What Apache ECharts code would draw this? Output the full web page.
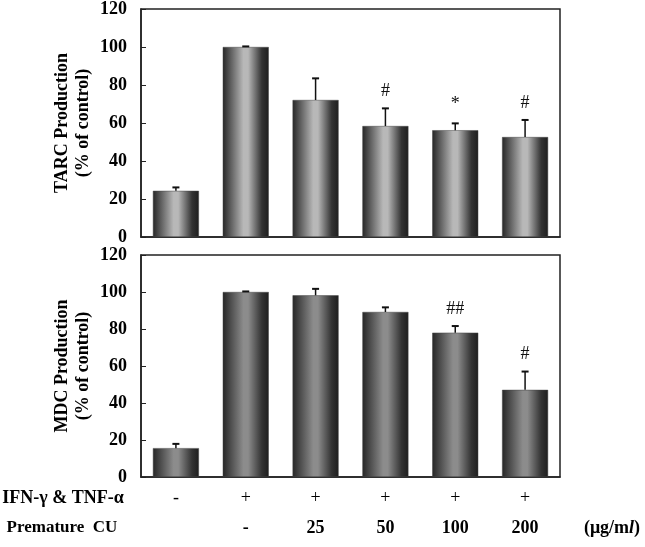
<!DOCTYPE html>
<html>
<head>
<meta charset="utf-8">
<script src="https://cdn.jsdelivr.net/npm/echarts@6/dist/echarts.min.js"></script>
<style>html,body{margin:0;padding:0;background:#fff;}#c{width:645px;height:547px;}</style>
</head>
<body>
<div id="c"></div>
<script>
var categories = ['g1', 'g2', 'g3', 'g4', 'g5', 'g6'];
var ifnRow = ['-', '+', '+', '+', '+', '+'];
var cuRow = ['', '-', '25', '50', '100', '200'];
var tarcMean = [24.3, 100, 72.1, 58.4, 56.2, 52.6];
var tarcSD = [1.8, 0.3, 11.4, 9.3, 3.6, 9.0];
var tarcSig = ['', '', '', '#', '*', '#'];
var mdcMean = [15.6, 100, 98.2, 89.2, 78.0, 47.1];
var mdcSD = [2.3, 0.3, 3.5, 2.5, 3.6, 9.9];
var mdcSig = ['', '', '', '', '##', '#'];
var yTicks = [0, 20, 40, 60, 80, 100, 120];

var FONT = '"Liberation Serif", "Times New Roman", serif';
var FS = 18;
var chart = echarts.init(document.getElementById('c'), null, {renderer: 'canvas'});

function grad(light) {
  return new echarts.graphic.LinearGradient(0, 0, 1, 0, [
    {offset: 0, color: '#262626'},
    {offset: 0.45, color: light},
    {offset: 0.55, color: light},
    {offset: 0.85, color: '#333333'},
    {offset: 1, color: '#1e1e1e'}
  ]);
}

function errItem(sig) {
  return function (params, api) {
    var i = api.value(0);
    var m = api.value(1);
    var s = api.value(2);
    var p0 = api.coord([i, m]);
    var p1 = api.coord([i, m + s]);
    var children = [
      {type: 'line', shape: {x1: p0[0], y1: p0[1], x2: p1[0], y2: p1[1]}, style: {stroke: '#111', lineWidth: 1.5}},
      {type: 'line', shape: {x1: p1[0] - 3.5, y1: p1[1], x2: p1[0] + 3.5, y2: p1[1]}, style: {stroke: '#111', lineWidth: 2}}
    ];
    if (sig[i]) {
      children.push({type: 'text', x: p1[0], y: p1[1] - (sig[i] === '*' ? 10 : 8),
        style: {text: sig[i], fill: '#111', font: '18px ' + FONT, align: 'center', verticalAlign: 'bottom'}});
    }
    return {type: 'group', children: children};
  };
}

function yAx(idx, name) {
  return {
    type: 'value', gridIndex: idx, min: 0, max: 120, interval: 20,
    name: name, nameLocation: 'middle', nameGap: 47, nameRotate: 90, nameMoveOverlap: false,
    nameTextStyle: {fontFamily: FONT, fontWeight: 'bold', fontSize: FS, color: '#000', lineHeight: 21},
    axisLine: {show: true, lineStyle: {color: '#222', width: 1.5}},
    axisTick: {show: true, inside: true, length: 5, lineStyle: {color: '#222'}},
    axisLabel: {fontFamily: FONT, fontWeight: 'bold', fontSize: FS, color: '#000', margin: 14,
      formatter: function (v) { return yTicks.indexOf(v) >= 0 ? String(v) : ''; }},
    splitLine: {show: false}
  };
}

var option = {
  animation: false,
  backgroundColor: '#fff',
  grid: [
    {left: 141, top: 9, width: 419, height: 228, show: true, borderColor: '#222', borderWidth: 1.5},
    {left: 141, top: 255, width: 419, height: 222, show: true, borderColor: '#222', borderWidth: 1.5}
  ],
  xAxis: [
    {type: 'category', gridIndex: 0, data: categories, axisLine: {lineStyle: {color: '#222', width: 1.5}},
      axisTick: {show: false}, axisLabel: {show: false}},
    {type: 'category', gridIndex: 1, data: categories, axisLine: {lineStyle: {color: '#222', width: 1.5}},
      axisTick: {show: false},
      axisLabel: {interval: 0, hideOverlap: false, fontFamily: FONT, fontSize: FS, color: '#000', margin: 6, lineHeight: 30,
        formatter: function (v, i) { return ifnRow[i] + '\n{b|' + (cuRow[i] || ' ') + '}'; },
        rich: {b: {fontFamily: FONT, fontWeight: 'bold', fontSize: FS, color: '#000', lineHeight: 30}}}}
  ],
  yAxis: [yAx(0, 'TARC Production\n(% of control)'), yAx(1, 'MDC Production\n(% of control)')],
  series: [
    {type: 'bar', xAxisIndex: 0, yAxisIndex: 0, data: tarcMean, barWidth: 46,
      itemStyle: {color: grad('#b8b8b8'), borderColor: '#444', borderWidth: 0.5}},
    {type: 'custom', xAxisIndex: 0, yAxisIndex: 0, z: 5,
      data: tarcMean.map(function (m, i) { return [i, m, tarcSD[i]]; }),
      renderItem: errItem(tarcSig)},
    {type: 'bar', xAxisIndex: 1, yAxisIndex: 1, data: mdcMean, barWidth: 46,
      itemStyle: {color: grad('#8c8c8c'), borderColor: '#444', borderWidth: 0.5}},
    {type: 'custom', xAxisIndex: 1, yAxisIndex: 1, z: 5,
      data: mdcMean.map(function (m, i) { return [i, m, mdcSD[i]]; }),
      renderItem: errItem(mdcSig)}
  ],
  graphic: [
    {type: 'text', x: 63, y: 498, style: {text: 'IFN-γ & TNF-α', font: 'bold 18px ' + FONT, fill: '#000', align: 'center', verticalAlign: 'middle'}},
    {type: 'text', x: 62, y: 528, style: {text: 'Premature  CU', font: 'bold 17px ' + FONT, fill: '#000', align: 'center', verticalAlign: 'middle'}},
    {type: 'text', x: 612, y: 528, style: {text: '(μg/m{i|l})', font: 'bold 18px ' + FONT, fill: '#000', align: 'center', verticalAlign: 'middle',
      rich: {i: {fontStyle: 'italic', fontWeight: 'bold', fontFamily: FONT, fontSize: 18, fill: '#000'}}}}
  ]
};
chart.setOption(option);
</script>
</body>
</html>
